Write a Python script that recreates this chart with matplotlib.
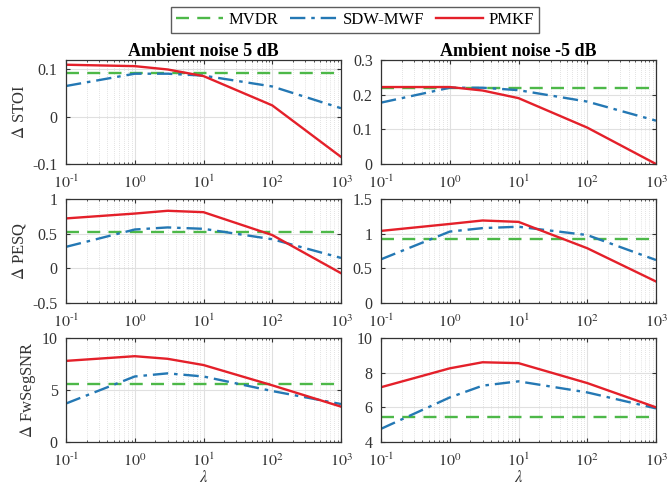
import numpy as np
import matplotlib
matplotlib.use("Agg")
import matplotlib.pyplot as plt
from matplotlib.ticker import LogLocator, NullFormatter, FuncFormatter

plt.rcParams["font.family"] = ["Liberation Serif", "DejaVu Serif"]
plt.rcParams["mathtext.fontset"] = "stix"

# lambda values
lam = [0.1, 1, 3, 10, 100, 1000]

# Ambient noise 5 dB
stoi5_pmkf = [0.110, 0.107, 0.100, 0.086, 0.024, -0.085]
stoi5_sdw = [0.065, 0.091, 0.091, 0.087, 0.064, 0.018]
stoi5_mvdr = 0.092
pesq5_pmkf = [0.72, 0.79, 0.83, 0.81, 0.48, -0.07]
pesq5_sdw = [0.31, 0.56, 0.59, 0.57, 0.42, 0.15]
pesq5_mvdr = 0.53
snr5_pmkf = [7.8, 8.25, 8.0, 7.4, 5.45, 3.4]
snr5_sdw = [3.7, 6.3, 6.6, 6.3, 4.9, 3.65]
snr5_mvdr = 5.6

# Ambient noise -5 dB
stoim5_pmkf = [0.222, 0.222, 0.212, 0.190, 0.105, 0.0]
stoim5_sdw = [0.177, 0.220, 0.220, 0.213, 0.180, 0.125]
stoim5_mvdr = 0.220
pesqm5_pmkf = [1.04, 1.14, 1.19, 1.17, 0.79, 0.31]
pesqm5_sdw = [0.63, 1.03, 1.08, 1.10, 0.98, 0.62]
pesqm5_mvdr = 0.93
snrm5_pmkf = [7.16, 8.25, 8.6, 8.55, 7.4, 6.0]
snrm5_sdw = [4.76, 6.57, 7.25, 7.5, 6.86, 5.94]
snrm5_mvdr = 5.47

titles = ["Ambient noise 5 dB", "Ambient noise -5 dB"]
ylabels = [r"$\Delta$ STOI", r"$\Delta$ PESQ", r"$\Delta$ FwSegSNR"]

panels = [
    [(stoi5_mvdr, stoi5_sdw, stoi5_pmkf, (-0.1, 0.12), [-0.1, 0, 0.1]),
     (stoim5_mvdr, stoim5_sdw, stoim5_pmkf, (0, 0.3), [0, 0.1, 0.2, 0.3])],
    [(pesq5_mvdr, pesq5_sdw, pesq5_pmkf, (-0.5, 1), [-0.5, 0, 0.5, 1]),
     (pesqm5_mvdr, pesqm5_sdw, pesqm5_pmkf, (0, 1.5), [0, 0.5, 1, 1.5])],
    [(snr5_mvdr, snr5_sdw, snr5_pmkf, (0, 10), [0, 5, 10]),
     (snrm5_mvdr, snrm5_sdw, snrm5_pmkf, (4, 10), [4, 6, 8, 10])],
]

GREEN = "#4db848"
BLUE = "#2478b4"
RED = "#e4202a"


def pow10(x, pos):
    e = int(round(np.log10(x)))
    if e < 0:
        return r"$10^{\text{-}%d}$" % (-e)
    return r"$10^{%d}$" % e


fig = plt.figure(figsize=(6.71, 4.90), dpi=100)
W, H = 671, 490
lefts = [66, 381]
tops = [60, 199, 338]
aw, ah = 275, 104

handles = None
for r in range(3):
    for c in range(2):
        ax = fig.add_axes([lefts[c] / W, 1 - (tops[r] + ah) / H, aw / W, ah / H])
        mvdr, sdw, pmkf, ylim, yt = panels[r][c]
        h1, = ax.plot([lam[0], lam[-1]], [mvdr, mvdr], "--", color=GREEN, lw=1.7,
                      dashes=(5.5, 3.5), label="MVDR")
        h2, = ax.plot(lam, sdw, "-.", color=BLUE, lw=1.7, dashes=(6.5, 2.5, 1.5, 2.5),
                      label="SDW-MWF")
        h3, = ax.plot(lam, pmkf, "-", color=RED, lw=1.7, label="PMKF")
        handles = [h1, h2, h3]
        ax.set_xscale("log")
        ax.set_xlim(0.1, 1000)
        ax.set_ylim(*ylim)
        ax.set_yticks(yt)
        ax.set_yticklabels([f"{v:g}" for v in yt])
        ax.xaxis.set_major_formatter(FuncFormatter(pow10))
        ax.xaxis.set_minor_locator(LogLocator(base=10, subs=np.arange(2, 10), numticks=20))
        ax.xaxis.set_minor_formatter(NullFormatter())
        ax.grid(True, which="major", color="#e0e0e0", lw=0.8)
        ax.grid(True, which="minor", axis="x", color="#c8c8c8", lw=0.5, ls=(0, (1, 2)))
        ax.set_axisbelow(True)
        ax.tick_params(direction="in", top=True, right=True, which="both",
                       labelsize=11.5, colors="#333333", length=3)
        ax.tick_params(axis="x", which="major", pad=8)
        ax.tick_params(axis="y", which="major", pad=6)
        ax.tick_params(which="minor", length=1.5)
        for s in ax.spines.values():
            s.set_color("#333333")
            s.set_linewidth(0.9)
        if r == 0:
            ax.set_title(titles[c], fontsize=13, fontweight="bold", pad=3)
        if c == 0:
            ax.set_ylabel(ylabels[r], fontsize=12, color="#333333", labelpad=3)
        if r == 2:
            ax.set_xlabel(r"$\lambda$", fontsize=12, color="#333333", labelpad=0)

fig.legend(handles=handles, loc="center", bbox_to_anchor=(355 / W, 1 - 20 / H),
           ncol=3, fontsize=12, frameon=True, fancybox=False, edgecolor="#333333",
           handlelength=2.8, handletextpad=0.35, columnspacing=0.7, borderpad=0.3,
           borderaxespad=0)

fig.savefig("out.png", dpi=100)
